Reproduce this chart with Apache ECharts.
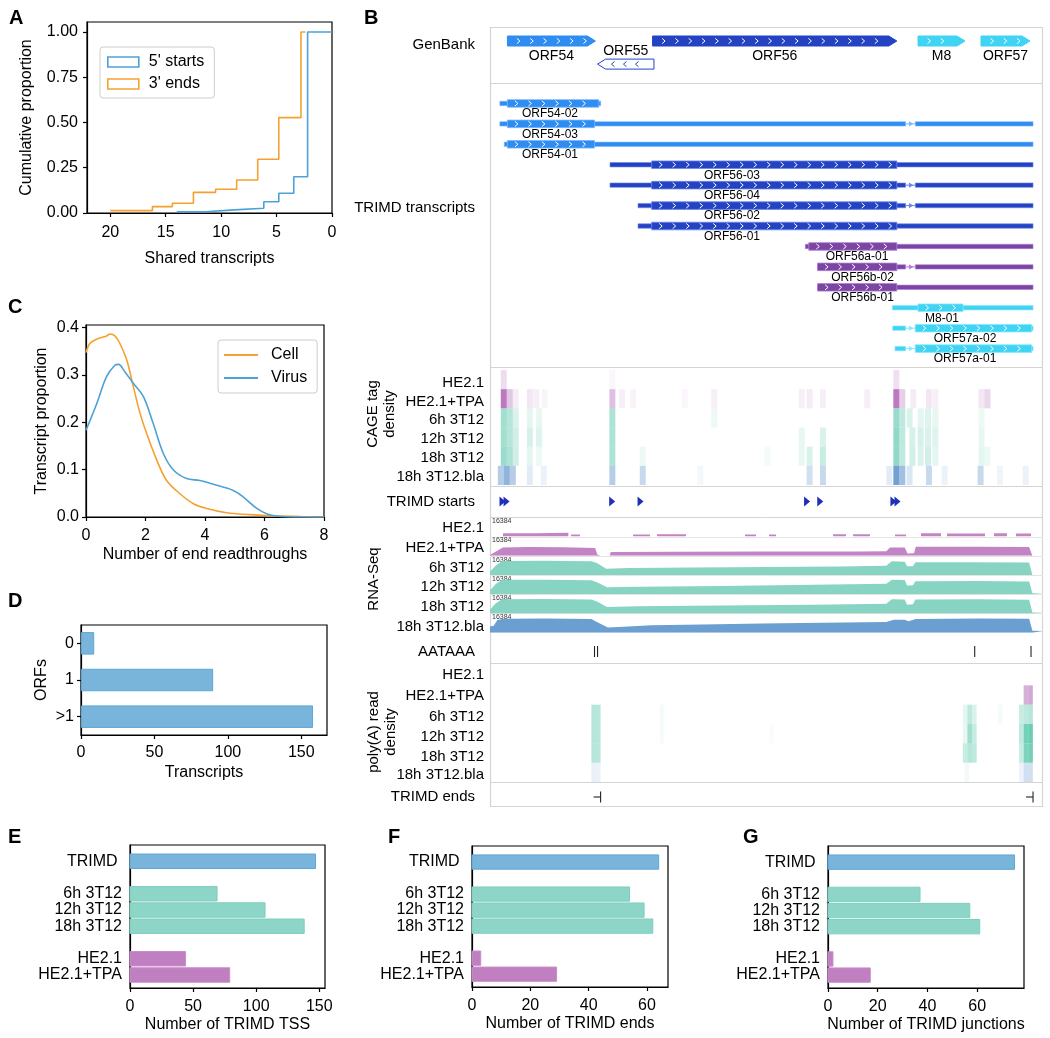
<!DOCTYPE html>
<html><head><meta charset="utf-8">
<script src="https://cdn.jsdelivr.net/npm/echarts@6/dist/echarts.min.js"></script>
<style>html,body{margin:0;padding:0;background:#fff}#c{width:1050px;height:1038px}</style>
</head><body><div id="c"></div>
<script>
const FONT = '"Liberation Sans", Arial, Helvetica, sans-serif';

// ---------------- Panel A: cumulative proportion vs shared transcripts
const aStartsShared = [14, 11.4, 8.8, 6.15, 4.8, 3.45, 2.2, 0];
const aStartsProp   = [0.007, 0.017, 0.026, 0.062, 0.109, 0.2, 1.0, 1.0];
const aEndsShared   = [20, 16.2, 14.4, 12.5, 10.5, 8.6, 6.7, 4.8, 2.8, 2.4];
const aEndsProp     = [0.013, 0.035, 0.054, 0.114, 0.131, 0.182, 0.297, 0.527, 1.0, 1.0];
const aTicksX = [0, 5, 10, 15, 20];
const aTicksY = [0, 0.25, 0.5, 0.75, 1.0];

// ---------------- Panel C: density of end readthroughs
const cCellX  = [0,0.13,0.36,0.69,0.81,0.97,1.14,1.37,1.59,1.82,2.04,2.38,2.71,3.16,3.61,4.06,4.73,5.51,6.07,7.2,8];
const cCellY  = [0.347,0.366,0.375,0.382,0.386,0.382,0.366,0.331,0.275,0.218,0.176,0.12,0.077,0.049,0.028,0.018,0.009,0.005,0.003,0.001,0.0];
const cVirusX = [0,0.36,0.69,0.97,1.09,1.31,1.59,1.93,2.26,2.6,2.94,3.38,3.83,4.28,4.95,5.29,5.74,6.07,6.41,7.2,8];
const cVirusY = [0.183,0.239,0.296,0.320,0.322,0.306,0.282,0.254,0.197,0.134,0.099,0.081,0.077,0.069,0.056,0.042,0.018,0.007,0.002,0.0,0.0];
const cTicksX = [0, 2, 4, 6, 8];
const cTicksY = [0, 0.1, 0.2, 0.3, 0.4];

// ---------------- Panel D: ORFs per transcript
const dCats = ['0', '1', '>1'];
const dVals = [9, 90, 158];
const dTicks = [0, 50, 100, 150];

// ---------------- Panels E/F/G
const barCats  = ['TRIMD ', '6h 3T12', '12h 3T12', '18h 3T12', 'HE2.1', 'HE2.1+TPA'];
const barSlots = [0, 2, 3, 4, 6, 7];
const barGroup = ['trimd', 'mouse', 'mouse', 'mouse', 'human', 'human'];
const eTss       = [147, 69, 107, 138, 44, 79];
const fEnds      = [64, 54, 59, 62, 3, 29];
const gJunctions = [75, 37, 57, 61, 2, 17];
const eTicks = [0, 50, 100, 150];
const fTicks = [0, 20, 40, 60];
const gTicks = [0, 20, 40, 60];

// ---------------- Panel B: genome browser (bp offset within window)
const gbNames  = ['ORF54', 'ORF55', 'ORF56', 'M8', 'ORF57'];
const gbStart  = [189, 1167, 1764, 4644, 5327];
const gbEnd    = [1144, 1779, 4414, 5154, 5859];
const gbStrand = [1, -1, 1, 1, 1];
const gbGroup  = ['ORF54', 'ORF55', 'ORF56', 'CYAN', 'CYAN'];

const txNames    = ['ORF54-02','ORF54-03','ORF54-01','ORF56-03','ORF56-04','ORF56-02','ORF56-01','ORF56a-01','ORF56b-02','ORF56b-01','M8-01','ORF57a-02','ORF57a-01'];
const txGroup    = ['ORF54','ORF54','ORF54','ORF56','ORF56','ORF56','ORF56','PURPLE','PURPLE','PURPLE','CYAN','CYAN','CYAN'];
const txStart    = [107, 107, 155, 1302, 1302, 1606, 1606, 3421, 3554, 3554, 4366, 4369, 4394];
const txEnd      = [1201, 5892, 5892, 5892, 5892, 5892, 5892, 5892, 5892, 5892, 5892, 5892, 5892];
const cdsStart   = [189, 189, 189, 1754, 1754, 1754, 1754, 3459, 3554, 3554, 4644, 4615, 4615];
const cdsEnd     = [1180, 1134, 1134, 4414, 4414, 4414, 4414, 4414, 4414, 4414, 5132, 5877, 5877];
const txSpliced  = [false, true, false, false, true, true, false, false, true, false, false, true, true];
const txLabelPos = [651, 651, 651, 2626, 2626, 2626, 2626, 3982, 4042, 4042, 4904, 5154, 5154];
const junction   = [4509, 4615];

const sampleNames = ['HE2.1', 'HE2.1+TPA', '6h 3T12', '12h 3T12', '18h 3T12', '18h 3T12.bla'];
const sampleKind  = ['human', 'human', 'mouse', 'mouse', 'mouse', 'bla'];

// CAGE tag density: [bin start bp, relative density]
const cageHE21    = [[117,0.22],[1295,0.06],[4376,0.2]];
const cageHE21TPA = [[117,0.85],[182,0.35],[247,0.12],[400,0.15],[470,0.1],[560,0.07],[1295,0.4],[1400,0.1],[1520,0.08],[2080,0.06],[2400,0.1],[3350,0.1],[3435,0.12],[3580,0.1],[4060,0.1],[4376,0.85],[4441,0.3],[4560,0.12],[4730,0.15],[4800,0.1],[5300,0.15],[5365,0.25]];
const cage6h      = [[117,0.5],[182,0.4],[247,0.2],[400,0.15],[500,0.12],[1295,0.45],[2400,0.1],[4376,0.55],[4441,0.35],[4520,0.2],[4640,0.15],[4720,0.18],[4800,0.12],[5300,0.1]];
const cage12h     = [[117,0.5],[182,0.4],[247,0.25],[400,0.22],[500,0.18],[1295,0.45],[3350,0.12],[3580,0.2],[4376,0.6],[4441,0.35],[4550,0.22],[4640,0.22],[4720,0.2],[4800,0.18],[5300,0.12]];
const cage18h     = [[117,0.55],[182,0.45],[247,0.25],[400,0.15],[500,0.1],[1295,0.45],[1625,0.1],[2980,0.06],[3350,0.12],[3435,0.2],[3580,0.3],[4376,0.6],[4441,0.35],[4550,0.25],[4640,0.2],[4720,0.25],[4800,0.15],[5300,0.15],[5365,0.1]];
const cageBla     = [[85,0.4],[150,0.6],[215,0.4],[400,0.15],[550,0.1],[1295,0.4],[1625,0.3],[2250,0.06],[3435,0.25],[3580,0.3],[4300,0.15],[4376,0.75],[4441,0.5],[4520,0.2],[4730,0.3],[4900,0.1],[5290,0.3],[5500,0.08],[5780,0.1]];
const cageBin = 65;

const trimdStarts = [130, 174, 1320, 1628, 3435, 3578, 4372, 4416];

// RNA-Seq coverage, log2 scale (max 16384 = 2^14): [bp, log2 coverage]
const rnaHE21    = [[0,0],[141,2.4],[500,2.8],[850,0],[879,1.5],[977,0],[1552,1.5],[1736,0],[1812,1.8],[2127,0],[2767,1.5],[2886,0],[3027,1.5],[3103,0],[3722,1.8],[3863,0],[3939,1.8],[4123,0],[4394,1.5],[4514,0],[4676,2.5],[4893,0],[4958,2.2],[5371,0],[5468,2.5],[5609,0],[5707,2.2],[5870,0],[6000,0]];
const rnaHE21TPA = [[0,0.6],[60,3],[140,6.2],[400,6.6],[800,6.3],[1140,5.8],[1165,1],[1200,0],[1300,0],[1310,2.8],[2000,3.0],[3000,3.1],[4000,3.2],[4300,3.4],[4340,6.1],[4500,6.2],[4530,1.7],[4600,1.8],[4620,6.8],[5300,6.8],[5850,6.5],[5885,0],[6000,0]];
const rna6h      = [[0,2.5],[60,7],[130,10.5],[600,10.7],[1100,10.3],[1160,9],[1260,4.6],[1500,5.2],[2200,5.6],[3000,6.0],[3800,6.4],[4300,7.0],[4360,10.2],[4500,10.0],[4525,6.6],[4590,6.6],[4615,9.5],[5200,9.6],[5850,9.3],[5885,0],[6000,0]];
const rna12h     = [[0,3],[60,7.5],[130,10.8],[600,10.9],[1100,10.5],[1160,9],[1270,5.3],[1600,5.6],[2500,6.2],[3500,7],[4300,7.8],[4360,10.8],[4500,10.6],[4525,6.6],[4590,6.8],[4615,9.7],[5300,9.9],[5850,9.6],[5885,0.8],[6000,0.5]];
const rna18h     = [[0,2.8],[60,7.5],[130,10.6],[600,10.8],[1100,10.4],[1160,9],[1270,4.9],[1600,5.3],[2500,6.0],[3500,6.6],[4300,7.3],[4360,10.6],[4500,10.5],[4525,6.6],[4590,6.8],[4615,10.4],[5300,10.6],[5850,10.3],[5885,0.8],[6000,0.5]];
const rnaBla     = [[0,4.6],[40,5.2],[80,9.5],[150,10.4],[600,10.6],[1100,10.2],[1160,8],[1280,3.9],[1500,4.6],[1750,5.6],[2300,6.2],[2950,6.8],[3600,7.4],[4300,8.0],[4380,9.6],[4500,9.7],[4540,8.6],[4620,10.2],[5300,10.6],[5850,10.4],[5885,1.5],[6000,1.3]];
const rnaMaxLabel = '16384';

const aataaaPos = [1134, 1167, 5259, 5870];

// poly(A) read density: [bin start bp, relative density]
const polyAHE21    = [];
const polyAHE21TPA = [[5790,0.5],[5840,0.55]];
const polyA6h      = [[1100,0.4],[1150,0.38],[1840,0.06],[5130,0.15],[5180,0.35],[5230,0.2],[5510,0.06],[5740,0.3],[5790,0.35],[5840,0.4]];
const polyA12h     = [[1100,0.4],[1150,0.38],[1840,0.05],[3030,0.04],[5130,0.12],[5180,0.5],[5230,0.3],[5740,0.35],[5790,0.75],[5840,0.8]];
const polyA18h     = [[1100,0.4],[1150,0.38],[5130,0.3],[5180,0.4],[5230,0.35],[5740,0.3],[5790,0.7],[5840,0.75]];
const polyABla     = [[1100,0.12],[1150,0.1],[5150,0.06],[5740,0.1],[5790,0.25],[5840,0.25]];
const polyABin = 50;

const trimdEnds = [1200, 5892];

// ================= styling =================
const C_BLUE = '#4ea1d7', C_ORANGE = '#f5a031';
const BAR_FILL = {trimd:'#79b4da', mouse:'#8dd5c7', human:'#c07fc0'};
const BAR_EDGE = {trimd:'#5ea6d8', mouse:'#7fcfbf', human:'#c98dc9'};
const TX_COL = {
  ORF54:{fill:'#2f8cf0', edge:'#79b8ff'},
  ORF56:{fill:'#2443c2', edge:'#6b86ec'},
  PURPLE:{fill:'#7a46a2', edge:'#b47ae0'},
  CYAN:{fill:'#40d4f4', edge:'#86e8fb'},
  ORF55:{fill:'#ffffff', edge:'#2443c2'}
};
const DENS_RGB = {human:[176,97,180], mouse:[70,192,160], bla:[70,130,195]};
const RNA_COL = {human:{fill:'#c284c4', edge:'#b06ab3'}, mouse:{fill:'#88d4c3', edge:'#6fcab5'}, bla:{fill:'#6c9fd1', edge:'#5b8fc5'}};
const GRAYLINE = '#d4d4d4';

function merge(a, b) {
  const out = Array.isArray(a) ? a.slice() : Object.assign({}, a);
  for (const k in b) {
    if (b[k] && typeof b[k] === 'object' && !Array.isArray(b[k]) && typeof b[k] !== 'function' && a && a[k] && typeof a[k] === 'object' && !Array.isArray(a[k])) out[k] = merge(a[k], b[k]);
    else out[k] = b[k];
  }
  return out;
}
const baseAxis = {
  type:'value',
  axisLine:{show:true, onZero:false, lineStyle:{color:'#000', width:1.2}},
  axisTick:{show:true, length:4, lineStyle:{color:'#000', width:1.2}},
  axisLabel:{color:'#000', fontSize:16, fontFamily:FONT, margin:7},
  splitLine:{show:false},
  nameLocation:'middle',
  nameTextStyle:{color:'#000', fontSize:16, fontFamily:FONT}
};
const ax = (extra) => merge(baseAxis, extra);
const hiddenAxis = (min, max, inverse) => ({type:'value', show:false, min, max, inverse: !!inverse, splitLine:{show:false}});

const grids = [], xAxes = [], yAxes = [], series = [], graphics = [];
function addGrid(g, x, y) {
  const i = grids.length;
  grids.push(g); x.gridIndex = i; y.gridIndex = i; xAxes.push(x); yAxes.push(y);
  return i;
}
const boxGrid = (left, top, width, height) => ({left, top, width, height, show:true, borderColor:'#000', borderWidth:1.2, backgroundColor:'transparent'});
const plainGrid = (left, top, width, height) => ({left, top, width, height, show:false});

// ---------- Panel A
const gA = addGrid(boxGrid(87, 22, 245, 191),
  ax({min:0, max:22.1, inverse:true, interval:5, axisLabel:{customValues:aTicksX, margin:12}, axisTick:{customValues:aTicksX}, name:'Shared transcripts', nameGap:38}),
  ax({min:0, max:1.055, interval:0.25, axisLabel:{customValues:aTicksY, formatter:v=>v.toFixed(2), margin:9}, axisTick:{customValues:aTicksY}, name:'Cumulative proportion', nameGap:52}));
series.push({name:"5' starts", type:'line', xAxisIndex:gA, yAxisIndex:gA, step:'end', symbol:'none', data:aStartsShared.map((x,i)=>[x,aStartsProp[i]]), lineStyle:{color:C_BLUE, width:1.6}, itemStyle:{color:C_BLUE}});
series.push({name:"3' ends", type:'line', xAxisIndex:gA, yAxisIndex:gA, step:'end', symbol:'none', data:aEndsShared.map((x,i)=>[x,aEndsProp[i]]), lineStyle:{color:C_ORANGE, width:1.6}, itemStyle:{color:C_ORANGE}});

// ---------- Panel C
const gC = addGrid(boxGrid(86, 325, 238, 192),
  ax({min:0, max:8, interval:2, axisLabel:{customValues:cTicksX, margin:11}, axisTick:{customValues:cTicksX}, name:'Number of end readthroughs', nameGap:30}),
  ax({min:0, max:0.405, interval:0.1, axisLabel:{customValues:cTicksY, formatter:v=>v.toFixed(1)}, axisTick:{customValues:cTicksY}, name:'Transcript proportion', nameGap:36}));
series.push({name:'Cell', type:'line', xAxisIndex:gC, yAxisIndex:gC, smooth:0.35, symbol:'none', data:cCellX.map((x,i)=>[x,cCellY[i]]), lineStyle:{color:C_ORANGE, width:1.6}, itemStyle:{color:C_ORANGE}});
series.push({name:'Virus', type:'line', xAxisIndex:gC, yAxisIndex:gC, smooth:0.35, symbol:'none', data:cVirusX.map((x,i)=>[x,cVirusY[i]]), lineStyle:{color:C_BLUE, width:1.6}, itemStyle:{color:C_BLUE}});

// ---------- Panel D
const gD = addGrid(boxGrid(81, 625, 246, 110),
  ax({min:0, max:167.5, interval:50, axisLabel:{customValues:dTicks, margin:10}, axisTick:{customValues:dTicks}, name:'Transcripts', nameGap:30}),
  ax({type:'category', data:dCats, inverse:true, axisTick:{alignWithLabel:true}, name:'ORFs', nameGap:31}));
series.push({type:'bar', xAxisIndex:gD, yAxisIndex:gD, data:dVals, barWidth:22.5, itemStyle:{color:BAR_FILL.trimd, borderColor:BAR_EDGE.trimd, borderWidth:1}});

// ---------- Panels E, F, G
function hbar(params, api) {
  const v = api.value(0), s = api.value(1), g = barGroup[params.dataIndex];
  const p0 = api.coord([0, s - 0.445]), p1 = api.coord([v, s + 0.445]);
  return {type:'rect', shape:{x:p0[0], y:Math.min(p0[1],p1[1]), width:p1[0]-p0[0], height:Math.abs(p1[1]-p0[1])}, style:{fill:BAR_FILL[g], stroke:BAR_EDGE[g], lineWidth:1}};
}
function countPanel(left, top, width, height, max, interval, ticks, title, vals) {
  const g = addGrid(boxGrid(left, top, width, height),
    ax({min:0, max, interval, axisLabel:{customValues:ticks, margin:11}, axisTick:{customValues:ticks}, name:title, nameGap:29}),
    ax({min:-1, max:7.8, interval:1, inverse:true, axisTick:{show:false}, axisLabel:{margin:8, formatter:v=>{const k = barSlots.indexOf(Math.round(v)); return (Math.abs(v-Math.round(v))<1e-6 && k>=0) ? barCats[k] : '';}}}));
  series.push({type:'custom', xAxisIndex:g, yAxisIndex:g, renderItem:hbar, data:vals.map((v,i)=>[v, barSlots[i]])});
}
countPanel(130, 845, 195, 143, 154.5, 50, eTicks, 'Number of TRIMD TSS', eTss);
countPanel(472, 846, 196, 141, 67.2, 20, fTicks, 'Number of TRIMD ends', fEnds);
countPanel(828, 846, 196, 142, 78.8, 20, gTicks, 'Number of TRIMD junctions', gJunctions);

// ---------- Panel B
const BL = 490, BW = 553, GMIN = 0, GMAX = 6000;
function chevron(cx, cy, dir, color) {
  return {type:'polyline', shape:{points:[[cx-1.5*dir, cy-2.6],[cx+1.5*dir, cy],[cx-1.5*dir, cy+2.6]]}, style:{stroke:color, fill:null, lineWidth:1}};
}
function txtStyle(text, x, y, size, align) {
  return {text, x, y, fill:'#000', fontSize:size, fontFamily:FONT, align:align||'center', verticalAlign:'middle', textAlign:align||'center', textVerticalAlign:'middle'};
}

// GenBank
const gGB = addGrid(plainGrid(BL, 27, BW, 56), hiddenAxis(GMIN, GMAX), hiddenAxis(0, 4, true));
series.push({type:'custom', xAxisIndex:gGB, yAxisIndex:gGB, data:gbNames.map((n,i)=>[gbStart[i], gbEnd[i]]),
  renderItem:(params, api) => {
    const i = params.dataIndex, fwd = gbStrand[i] > 0;
    const lane = fwd ? 1 : 2.65;
    const x0 = api.coord([api.value(0), lane])[0], x1 = api.coord([api.value(1), lane])[0], cy = api.coord([0, lane])[1];
    const h = 10, tip = 8, col = TX_COL[gbGroup[i]];
    const pts = fwd ? [[x0,cy-h/2],[x1-tip,cy-h/2],[x1,cy],[x1-tip,cy+h/2],[x0,cy+h/2]]
                    : [[x1,cy-h/2],[x0+tip,cy-h/2],[x0,cy],[x0+tip,cy+h/2],[x1,cy+h/2]];
    const ch = [{type:'polygon', shape:{points:pts}, style:{fill:col.fill, stroke: fwd ? col.fill : col.edge, lineWidth:1}}];
    const cc = fwd ? '#ffffff' : col.edge;
    if (fwd) { for (let cx = x0 + 11; cx < x1 - 10.5; cx += 13.3) ch.push(chevron(cx, cy, 1, cc)); }
    else { for (let cx = x1 - 17; cx > x0 + 12; cx -= 12) ch.push(chevron(cx, cy, -1, cc)); }
    ch.push({type:'text', style:txtStyle(gbNames[i], (x0+x1)/2, fwd ? cy+15 : cy-13, 14)});
    return {type:'group', children:ch};
  }});

// TRIMD transcripts
const gTX = addGrid(plainGrid(BL, 83, BW, 284), hiddenAxis(GMIN, GMAX), hiddenAxis(-1, 12.9, true));
series.push({type:'custom', xAxisIndex:gTX, yAxisIndex:gTX, data:txNames.map((n,i)=>[txStart[i], i]),
  renderItem:(params, api) => {
    const i = params.dataIndex, row = api.value(1), col = TX_COL[txGroup[i]];
    const cy = api.coord([0, row])[1], X = p => api.coord([p, row])[0];
    const exons = txSpliced[i] ? [[txStart[i], junction[0]], [junction[1], txEnd[i]]] : [[txStart[i], txEnd[i]]];
    const ch = [];
    if (txSpliced[i]) {
      const j0 = X(junction[0]), j1 = X(junction[1]);
      ch.push({type:'line', shape:{x1:j0, y1:cy, x2:j1, y2:cy}, style:{stroke:col.edge, lineWidth:1}});
      const axx = j0 + (j1 - j0) * 0.65;
      ch.push({type:'polygon', shape:{points:[[axx-3,cy-2.6],[axx+1.5,cy],[axx-3,cy+2.6]]}, style:{fill:col.edge}});
    }
    exons.forEach(([a, b]) => {
      const x0 = X(a), x1 = X(b);
      ch.push({type:'rect', shape:{x:x0, y:cy-2.2, width:x1-x0, height:4.4}, style:{fill:col.fill, stroke:col.edge, lineWidth:0.6}});
      const c0 = Math.max(a, cdsStart[i]), c1 = Math.min(b, cdsEnd[i]);
      if (c1 > c0) {
        const X0 = X(c0), X1 = X(c1);
        ch.push({type:'rect', shape:{x:X0, y:cy-3.8, width:X1-X0, height:7.6}, style:{fill:col.fill, stroke:col.edge, lineWidth:0.8}});
        for (let cx = X0 + 9; cx < X1 - 5; cx += 13.5) ch.push(chevron(cx, cy, 1, '#ffffff'));
      }
    });
    ch.push({type:'text', style:txtStyle(txNames[i], X(txLabelPos[i]), cy+10.5, 12)});
    return {type:'group', children:ch};
  }});

// density heatmaps (CAGE and poly(A))
function densityData(rows) {
  const out = [];
  rows.forEach((arr, r) => arr.forEach(([p, a]) => out.push([p, r, a, r])));
  return out;
}
function densityRender(bin) {
  return (params, api) => {
    const p = api.value(0), r = api.value(1), a = api.value(2), k = sampleKind[api.value(3)];
    const p0 = api.coord([p, r]), p1 = api.coord([p + bin, r + 1]);
    const c = DENS_RGB[k];
    return {type:'rect', shape:{x:p0[0], y:p0[1], width:p1[0]-p0[0], height:p1[1]-p0[1]}, style:{fill:`rgba(${c[0]},${c[1]},${c[2]},${a})`}};
  };
}
const gCAGE = addGrid(plainGrid(BL, 370, BW, 115), hiddenAxis(GMIN, GMAX), hiddenAxis(0, 6, true));
series.push({type:'custom', xAxisIndex:gCAGE, yAxisIndex:gCAGE, renderItem:densityRender(cageBin),
  data:densityData([cageHE21, cageHE21TPA, cage6h, cage12h, cage18h, cageBla])});

// TRIMD starts
const gST = addGrid(plainGrid(BL, 486, BW, 31), hiddenAxis(GMIN, GMAX), hiddenAxis(0, 1, true));
series.push({type:'custom', xAxisIndex:gST, yAxisIndex:gST, data:trimdStarts.map(p=>[p, 0.5]),
  renderItem:(params, api) => { const c = api.coord([api.value(0), api.value(1)]);
    return {type:'polygon', shape:{points:[[c[0]-2.5,c[1]-5],[c[0]+3.5,c[1]],[c[0]-2.5,c[1]+5]]}, style:{fill:'#1f30b8'}}; }});

// RNA-Seq
const rnaTracks = [rnaHE21, rnaHE21TPA, rna6h, rna12h, rna18h, rnaBla];
const RNA_TOP = 517.3, RNA_H = 19.23;
rnaTracks.forEach((tr, r) => {
  const g = addGrid(plainGrid(BL, RNA_TOP + r*RNA_H, BW, RNA_H), hiddenAxis(GMIN, GMAX), hiddenAxis(0, 14.4));
  const col = RNA_COL[sampleKind[r]];
  series.push({type:'line', xAxisIndex:g, yAxisIndex:g, data:tr, step: r === 0 ? 'end' : false, symbol:'none', lineStyle:{color:col.edge, width:0}, areaStyle:{color:col.fill, opacity:1}, silent:true});
});

// AATAAA
const gAA = addGrid(plainGrid(BL, 633, BW, 30), hiddenAxis(GMIN, GMAX), hiddenAxis(0, 1, true));
series.push({type:'custom', xAxisIndex:gAA, yAxisIndex:gAA, data:aataaaPos.map(p=>[p, 0.62]),
  renderItem:(params, api) => { const c = api.coord([api.value(0), api.value(1)]);
    return {type:'line', shape:{x1:c[0], y1:c[1]-5.5, x2:c[0], y2:c[1]+5.5}, style:{stroke:'#222', lineWidth:1.1}}; }});

// poly(A)
const gPA = addGrid(plainGrid(BL, 666, BW, 116), hiddenAxis(GMIN, GMAX), hiddenAxis(0, 6, true));
series.push({type:'custom', xAxisIndex:gPA, yAxisIndex:gPA, renderItem:densityRender(polyABin),
  data:densityData([polyAHE21, polyAHE21TPA, polyA6h, polyA12h, polyA18h, polyABla])});

// TRIMD ends
const gEN = addGrid(plainGrid(BL, 782, BW, 25), hiddenAxis(GMIN, GMAX), hiddenAxis(0, 1, true));
series.push({type:'custom', xAxisIndex:gEN, yAxisIndex:gEN, data:trimdEnds.map(p=>[p, 0.6]),
  renderItem:(params, api) => { const c = api.coord([api.value(0), api.value(1)]);
    return {type:'group', children:[
      {type:'line', shape:{x1:c[0], y1:c[1]-5.5, x2:c[0], y2:c[1]+5.5}, style:{stroke:'#222', lineWidth:1.1}},
      {type:'line', shape:{x1:c[0]-7, y1:c[1], x2:c[0], y2:c[1]}, style:{stroke:'#222', lineWidth:1.1}}]}; }});

// ---------- graphics: panel frame, separators, labels
const gfxLine = (x1, y1, x2, y2, c, w) => ({type:'line', silent:true, shape:{x1, y1, x2, y2}, style:{stroke:c||GRAYLINE, lineWidth:w||1}});
const gfxText = (text, x, y, size, align, extra) => Object.assign({type:'text', x, y, silent:true, style:Object.assign({text, fill:'#000', fontSize:size, fontFamily:FONT, align, verticalAlign:'middle', textAlign:align, textVerticalAlign:'middle'}, (extra&&extra.style)||{})}, extra ? {rotation: extra.rotation||0} : {});
graphics.push({type:'rect', silent:true, shape:{x:BL+0.5, y:27.5, width:BW-1, height:779}, style:{fill:null, stroke:GRAYLINE, lineWidth:1.2}});
[83, 367, 486, 517, 663, 782].forEach(y => graphics.push(gfxLine(BL, y+0.5, BL+BW, y+0.5)));
for (let r = 1; r < 6; r++) { const y = Math.round(RNA_TOP + r*RNA_H) + 0.5; graphics.push(gfxLine(BL, y, BL+BW, y, '#e4e4e4')); }
for (let r = 0; r < 6; r++) graphics.push(gfxText(rnaMaxLabel, BL+2, RNA_TOP + r*RNA_H + 4, 7, 'left', {style:{fill:'#333'}}));

const LBL = 15;
graphics.push(gfxText('GenBank', 475, 45, LBL, 'right'));
graphics.push(gfxText('TRIMD transcripts', 475, 208, LBL, 'right'));
graphics.push(gfxText('TRIMD starts', 475, 502, LBL, 'right'));
graphics.push(gfxText('AATAAA', 475, 652, LBL, 'right'));
graphics.push(gfxText('TRIMD ends', 475, 797, LBL, 'right'));
const cageLabelY = [382.5, 401.5, 420, 439, 457.5, 477];
const rnaLabelY = [528, 547.5, 567.5, 587, 607, 626.5];
const polyLabelY = [675, 695.5, 717, 737, 756.5, 775];
sampleNames.forEach((n, i) => {
  graphics.push(gfxText(n, 484, cageLabelY[i], LBL, 'right'));
  graphics.push(gfxText(n, 484, rnaLabelY[i], LBL, 'right'));
  graphics.push(gfxText(n, 484, polyLabelY[i], LBL, 'right'));
});
const ROT = {rotation: Math.PI/2};
graphics.push(gfxText('CAGE tag', 373, 414, LBL, 'center', ROT));
graphics.push(gfxText('density', 390, 414, LBL, 'center', ROT));
graphics.push(gfxText('RNA-Seq', 374, 579, LBL, 'center', ROT));
graphics.push(gfxText('poly(A) read', 374, 732, LBL, 'center', ROT));
graphics.push(gfxText('density', 391, 732, LBL, 'center', ROT));

// panel letters
[['A',9,18],['B',364,18],['C',8,307],['D',8,601],['E',8,837],['F',388,837],['G',743,837]].forEach(([t,x,y]) =>
  graphics.push(gfxText(t, x, y, 20, 'left', {style:{fontWeight:'bold'}})));

const option = {
  animation:false,
  backgroundColor:'#fff',
  textStyle:{fontFamily:FONT},
  grid:grids, xAxis:xAxes, yAxis:yAxes, series,
  legend:[
    {left:100, top:47, orient:'vertical', itemWidth:31, itemHeight:10, itemGap:6, padding:[7,10,6,7],
     borderColor:'#cccccc', borderWidth:1, borderRadius:3, backgroundColor:'rgba(255,255,255,0.85)',
     textStyle:{fontSize:16, fontFamily:FONT, color:'#000', padding:[0,0,0,5]}, selectedMode:false,
     data:[{name:"5' starts", icon:'rect', itemStyle:{color:'rgba(255,255,255,0)', borderColor:C_BLUE, borderWidth:1.6}},
           {name:"3' ends", icon:'rect', itemStyle:{color:'rgba(255,255,255,0)', borderColor:C_ORANGE, borderWidth:1.6}}]},
    {left:218, top:340, orient:'vertical', itemWidth:34, itemHeight:2, itemGap:7, padding:[7,10,7,6],
     borderColor:'#cccccc', borderWidth:1, borderRadius:3, backgroundColor:'rgba(255,255,255,0.85)',
     textStyle:{fontSize:16, fontFamily:FONT, color:'#000', padding:[0,0,0,8]}, selectedMode:false,
     data:[{name:'Cell', icon:'rect', itemStyle:{color:C_ORANGE}}, {name:'Virus', icon:'rect', itemStyle:{color:C_BLUE}}]}
  ],
  graphic:{elements:graphics}
};
const chart = echarts.init(document.getElementById('c'), null, {renderer:'canvas'});
chart.setOption(option);
</script></body></html>
